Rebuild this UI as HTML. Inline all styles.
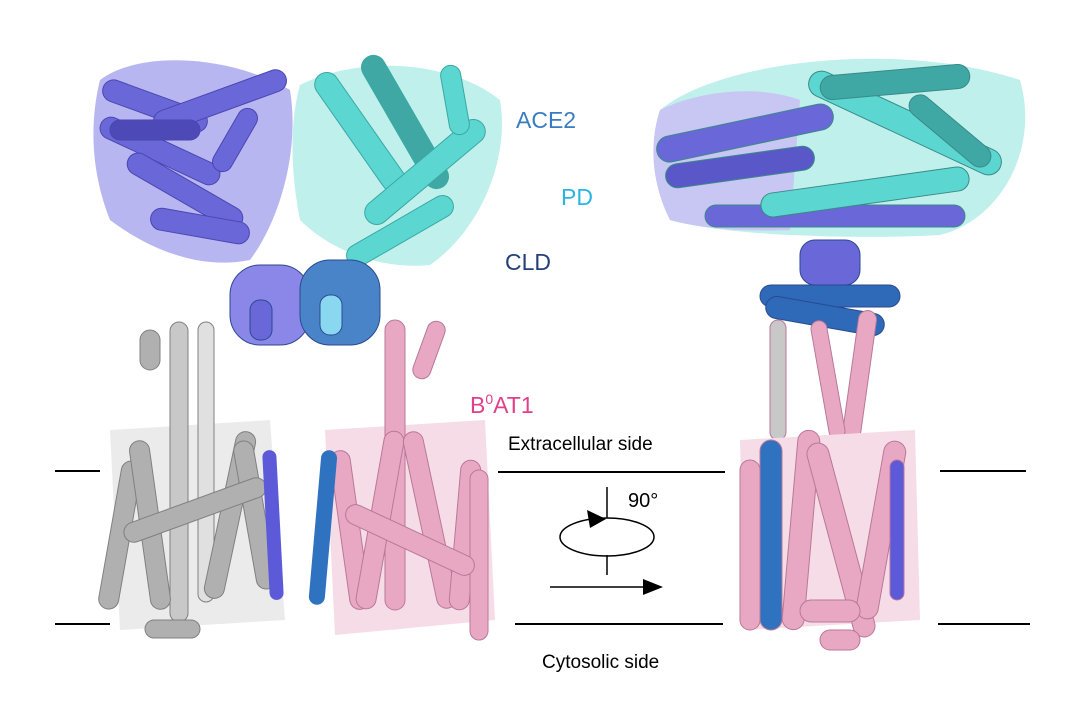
<!DOCTYPE html>
<html><head><meta charset="utf-8"><style>
html,body{margin:0;padding:0;background:#fff;}
svg{display:block;}
text{font-family:"Liberation Sans",Arial,sans-serif;}
</style></head><body>
<svg width="1080" height="711" viewBox="0 0 1080 711" xmlns="http://www.w3.org/2000/svg">
<rect width="1080" height="711" fill="#fff"/>
<g stroke="#000" stroke-width="2">
<line x1="55" y1="471" x2="100" y2="471"/>
<line x1="498" y1="472" x2="725" y2="472"/>
<line x1="940" y1="471" x2="1026" y2="471"/>
<line x1="55" y1="624" x2="110" y2="624"/>
<line x1="515" y1="624" x2="723" y2="624"/>
<line x1="938" y1="624" x2="1030" y2="624"/>
</g>
<g stroke="#000" stroke-width="1.5" fill="none">
<line x1="607" y1="487" x2="607" y2="518"/>
<ellipse cx="607" cy="537" rx="47" ry="19"/>
<line x1="607" y1="555" x2="607" y2="575"/>
<line x1="550" y1="587" x2="645" y2="587"/>
</g>
<polygon points="587,510 606,519 590,528" fill="#000"/>
<polygon points="643,579 663,587 643,595" fill="#000"/>
<text x="628" y="507" font-size="20">90°</text>
<text x="508" y="450" font-size="19">Extracellular side</text>
<text x="542" y="668" font-size="19">Cytosolic side</text>
<text x="516" y="128" font-size="23" fill="#3a7cc0">ACE2</text>
<text x="561" y="205" font-size="23" fill="#2bb5e2">PD</text>
<text x="505" y="270" font-size="23" fill="#243f78">CLD</text>
<text x="470" y="413" font-size="23" fill="#e0408a">B<tspan dy="-9" font-size="14">0</tspan><tspan dy="9">AT1</tspan></text>

<g fill="#6a67d8" stroke="#4a47b0" stroke-width="1">
<path d="M100,80 C140,50 230,55 290,90 C300,150 280,220 250,260 C200,270 150,250 110,220 C90,170 90,120 100,80Z" fill="#b8b6f0" stroke="none"/>
<rect x="100" y="95" width="110" height="22" rx="11" transform="rotate(20 155 106)"/>
<rect x="150" y="90" width="140" height="22" rx="11" transform="rotate(-20 220 101)"/>
<rect x="95" y="140" width="130" height="22" rx="11" transform="rotate(25 160 151)"/>
<rect x="120" y="180" width="130" height="22" rx="11" transform="rotate(30 185 191)"/>
<rect x="150" y="215" width="100" height="22" rx="11" transform="rotate(10 200 226)"/>
<rect x="200" y="130" width="70" height="20" rx="10" transform="rotate(-60 235 140)"/>
<rect x="110" y="120" width="90" height="20" rx="10" fill="#4d4ab8"/>
</g>
<g fill="#5cd6d0" stroke="#3aa8a3" stroke-width="1">
<path d="M300,85 C360,55 450,60 500,100 C510,160 480,230 430,265 C380,270 330,250 300,220 C290,170 290,120 300,85Z" fill="#bff0ec" stroke="none"/>
<rect x="290" y="120" width="140" height="24" rx="12" transform="rotate(55 360 132)"/>
<rect x="330" y="110" width="150" height="24" rx="12" transform="rotate(60 405 122)" fill="#3fa8a4"/>
<rect x="350" y="160" width="150" height="24" rx="12" transform="rotate(-40 425 172)"/>
<rect x="340" y="220" width="120" height="22" rx="11" transform="rotate(-30 400 231)"/>
<rect x="420" y="90" width="70" height="20" rx="10" transform="rotate(80 455 100)"/>
</g>
<g stroke="#2a4a90" stroke-width="1">
<rect x="230" y="265" width="80" height="80" rx="30" fill="#8a87e8"/>
<rect x="300" y="260" width="80" height="85" rx="30" fill="#4a84c8"/>
<rect x="250" y="300" width="22" height="40" rx="10" fill="#6a67d8"/>
<rect x="320" y="295" width="22" height="40" rx="10" fill="#8ad8f0"/>
</g>
<g fill="#b0b0b0" stroke="#808080" stroke-width="1">
<path d="M110,430 L270,420 L285,620 L120,630Z" fill="#ebebeb" stroke="none"/>
<rect x="170" y="322" width="18" height="300" rx="9" fill="#c8c8c8"/>
<rect x="198" y="322" width="16" height="280" rx="8" fill="#e0e0e0"/>
<rect x="110" y="460" width="20" height="150" rx="10" transform="rotate(10 120 535)"/>
<rect x="140" y="440" width="20" height="170" rx="10" transform="rotate(-8 150 525)"/>
<rect x="220" y="430" width="20" height="170" rx="10" transform="rotate(12 230 515)"/>
<rect x="245" y="440" width="20" height="150" rx="10" transform="rotate(-10 255 515)"/>
<rect x="120" y="500" width="150" height="20" rx="10" transform="rotate(-20 195 510)"/>
<rect x="145" y="620" width="55" height="18" rx="9"/>
<rect x="140" y="330" width="20" height="40" rx="10"/>
</g>
<rect x="266" y="450" width="14" height="150" rx="7" fill="#5c5ad8" transform="rotate(-3 273 525)"/>
<g fill="#e8a8c4" stroke="#b87898" stroke-width="1">
<path d="M325,430 L485,420 L495,620 L335,635Z" fill="#f6dce7" stroke="none"/>
<rect x="385" y="320" width="20" height="290" rx="10"/>
<rect x="340" y="450" width="20" height="160" rx="10" transform="rotate(-8 350 530)"/>
<rect x="370" y="430" width="20" height="180" rx="10" transform="rotate(10 380 520)"/>
<rect x="420" y="430" width="20" height="180" rx="10" transform="rotate(-12 430 520)"/>
<rect x="455" y="460" width="20" height="150" rx="10" transform="rotate(5 465 535)"/>
<rect x="470" y="470" width="18" height="170" rx="9"/>
<rect x="340" y="530" width="140" height="20" rx="10" transform="rotate(25 410 540)"/>
<rect x="420" y="320" width="18" height="60" rx="9" transform="rotate(20 429 350)"/>
</g>
<rect x="315" y="450" width="16" height="155" rx="8" fill="#2e72c0" transform="rotate(5 323 527)"/>

<g stroke="#3a8a88" stroke-width="1">
<path d="M660,110 C720,60 900,40 1020,80 C1040,150 1000,220 940,235 C850,240 720,235 670,220 C650,180 650,140 660,110Z" fill="#bff0ec" stroke="none"/>
<path d="M660,110 C700,90 760,85 800,100 L790,230 C740,232 700,228 670,220 C650,180 650,140 660,110Z" fill="#c8c6f2" stroke="none"/>
<rect x="655" y="120" width="180" height="26" rx="13" fill="#6a67d8" transform="rotate(-12 745 133)"/>
<rect x="665" y="155" width="150" height="24" rx="12" fill="#5a57c8" transform="rotate(-8 740 167)"/>
<rect x="705" y="205" width="260" height="22" rx="11" fill="#6a67d8"/>
<rect x="760" y="180" width="210" height="24" rx="12" fill="#5cd6d0" transform="rotate(-8 865 192)"/>
<rect x="800" y="110" width="210" height="26" rx="13" fill="#5cd6d0" transform="rotate(25 905 123)"/>
<rect x="820" y="70" width="150" height="24" rx="12" fill="#3fa8a4" transform="rotate(-5 895 82)"/>
<rect x="900" y="120" width="100" height="22" rx="11" fill="#3fa8a4" transform="rotate(40 950 131)"/>
</g>
<g stroke="#2a4a90" stroke-width="1">
<rect x="800" y="240" width="60" height="45" rx="15" fill="#6a67d8"/>
<rect x="760" y="285" width="140" height="22" rx="11" fill="#2e6ab8"/>
<rect x="765" y="305" width="120" height="22" rx="11" fill="#2e6ab8" transform="rotate(10 825 316)"/>
</g>
<g fill="#e8a8c4" stroke="#b87898" stroke-width="1">
<rect x="770" y="320" width="16" height="120" rx="8" fill="#c8c8c8"/>
<rect x="850" y="310" width="18" height="140" rx="9" transform="rotate(8 859 380)"/>
<rect x="820" y="320" width="16" height="120" rx="8" transform="rotate(-10 828 380)"/>
<path d="M740,440 L915,430 L920,620 L745,630Z" fill="#f6dce7" stroke="none"/>
<rect x="760" y="440" width="22" height="190" rx="11" fill="#2e72c0"/>
<rect x="740" y="460" width="20" height="170" rx="10"/>
<rect x="790" y="430" width="22" height="200" rx="11" transform="rotate(5 801 530)"/>
<rect x="830" y="440" width="22" height="200" rx="11" transform="rotate(-15 841 540)"/>
<rect x="870" y="440" width="22" height="180" rx="11" transform="rotate(10 881 530)"/>
<rect x="890" y="460" width="14" height="140" rx="7" fill="#5c5ad8"/>
<rect x="800" y="600" width="60" height="22" rx="11"/>
<rect x="820" y="630" width="40" height="20" rx="10"/>
</g>
</svg>
</body></html>
